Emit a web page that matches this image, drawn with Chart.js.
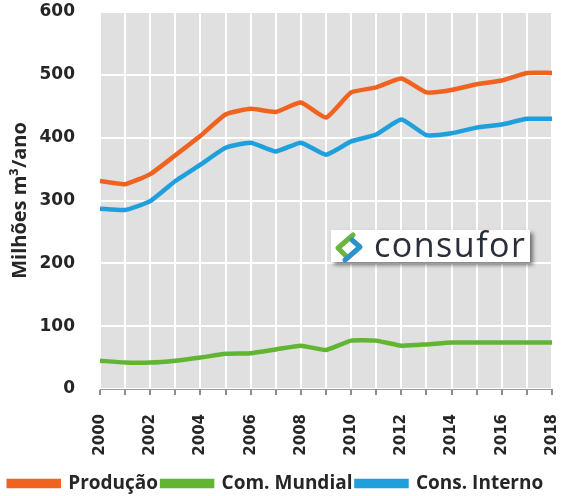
<!DOCTYPE html>
<html>
<head>
<meta charset="utf-8">
<script src="https://cdn.jsdelivr.net/npm/chart.js@4.4.1/dist/chart.umd.min.js"></script>
<style>
  html, body { margin: 0; padding: 0; background: #fff; }
  #wrap { width: 563px; height: 496px; }
</style>
</head>
<body>
<div id="wrap"><canvas id="chartCanvas" width="563" height="496"></canvas></div>
<script>
// Data
const years = ['2000', '2001', '2002', '2003', '2004', '2005', '2006', '2007', '2008', '2009',
    '2010', '2011', '2012', '2013', '2014', '2015', '2016', '2017', '2018'];
const producao = [331, 326, 342, 372, 403, 437, 446, 441, 456, 432, 472, 480, 494, 472, 476, 485, 491, 503, 503];
const comMundial = [45, 42, 42, 45, 50, 56, 57, 63, 69, 62, 77, 77, 69, 71, 74, 74, 74, 74, 74];
const consInterno = [287, 285, 299, 331, 357, 384, 392, 378, 392, 373, 394, 405, 429, 404, 407, 416, 421, 430, 430];
const yTicks = [0, 100, 200, 300, 400, 500, 600];

const TEXT = '#262626';

// Gray plot background
const plotBg = {
    id: 'plotBg',
    beforeDraw(chart) {
        const { ctx, chartArea: a } = chart;
        ctx.save();
        ctx.fillStyle = '#e0e0e0';
        ctx.fillRect(a.left, a.top, a.right - a.left, a.bottom - a.top);
        ctx.restore();
    }
};

// consufor logo box
const logo = {
    id: 'logo',
    afterDatasetsDraw(chart) {
        const ctx = chart.ctx;
        const x = 331, y = 230, w = 199, h = 32;
        ctx.save();
        ctx.shadowColor = 'rgba(0,0,0,0.5)';
        ctx.shadowBlur = 4;
        ctx.shadowOffsetX = 3;
        ctx.shadowOffsetY = 3;
        ctx.fillStyle = '#fff';
        ctx.fillRect(x, y, w, h);
        ctx.restore();

        ctx.save();
        ctx.beginPath();
        ctx.rect(x, y, w, h + 4);
        ctx.clip();
        // icon
        ctx.lineWidth = 5;
        ctx.lineCap = 'round';
        ctx.lineJoin = 'round';
        ctx.strokeStyle = '#6cb33f';
        ctx.beginPath();
        ctx.moveTo(353, 235);
        ctx.lineTo(338, 248);
        ctx.lineTo(346, 256);
        ctx.stroke();
        ctx.strokeStyle = '#2b93c9';
        ctx.beginPath();
        ctx.moveTo(345, 260);
        ctx.lineTo(360, 247);
        ctx.lineTo(352, 240);
        ctx.stroke();
        ctx.fillStyle = '#2a2d3a';
        ctx.font = '34px "Open Sans", sans-serif';
        ctx.letterSpacing = '1.5px';
        ctx.textBaseline = 'alphabetic';
        ctx.fillText('consufor', 374, 257);
        ctx.restore();
    }
};

const config = {
    type: 'line',
    data: {
        labels: years,
        datasets: [{
            label: 'Produção',
            data: producao,
            borderColor: '#f0621f',
            backgroundColor: '#f0621f',
            borderWidth: 4.5,
            pointRadius: 0,
            tension: 0.15,
            fill: false
        }, {
            label: 'Com. Mundial',
            data: comMundial,
            borderColor: '#62b531',
            backgroundColor: '#62b531',
            borderWidth: 4.5,
            pointRadius: 0,
            tension: 0.15,
            fill: false
        }, {
            label: 'Cons. Interno',
            data: consInterno,
            borderColor: '#1f9fdc',
            backgroundColor: '#1f9fdc',
            borderWidth: 4.5,
            pointRadius: 0,
            tension: 0.15,
            fill: false
        }]
    },
    options: {
        responsive: false,
        animation: false,
        layout: {
            autoPadding: false,
            padding: { top: 12, right: 11, left: 0, bottom: -7 }
        },
        plugins: {
            legend: {
                display: true,
                position: 'bottom',
                labels: {
                    color: TEXT,
                    boxWidth: 50,
                    boxHeight: 5,
                    padding: 4,
                    font: { family: '"Open Sans", sans-serif', size: 19, weight: 'bold', lineHeight: 0.9 }
                }
            },
            tooltip: { enabled: false }
        },
        scales: {
            x: {
                offset: false,
                afterFit: (axis) => {
                    axis.paddingLeft = 0;
                    axis.paddingRight = 0;
                    axis.height = 81;
                },
                grid: {
                    color: '#ffffff',
                    lineWidth: 2,
                    tickColor: '#8c8c8c',
                    tickLength: 6,
                    drawTicks: true
                },
                border: { color: '#9a9a9a', width: 1 },
                ticks: {
                    autoSkip: false,
                    maxRotation: 90,
                    minRotation: 90,
                    color: TEXT,
                    padding: 19,
                    font: { family: '"DejaVu Sans", sans-serif', size: 15, weight: 'bold' },
                    callback: function (val, i) {
                        return i % 2 === 0 ? years[i] : '';
                    }
                }
            },
            y: {
                min: yTicks[0],
                max: yTicks[yTicks.length - 1],
                afterBuildTicks: (axis) => {
                    axis.ticks = yTicks.map(v => ({ value: v }));
                },
                afterFit: (axis) => {
                    axis.width = 100;
                    axis.paddingTop = 0;
                    axis.paddingBottom = 0;
                },
                grid: {
                    color: '#ffffff',
                    lineWidth: 2,
                    drawTicks: false
                },
                border: { display: false },
                title: {
                    display: true,
                    text: 'Milhões m³/ano',
                    color: TEXT,
                    font: { family: '"Open Sans", sans-serif', size: 20, weight: 'bold' },
                    padding: { top: 8, bottom: 0 }
                },
                ticks: {
                    color: TEXT,
                    padding: 25,
                    font: { family: '"DejaVu Sans", sans-serif', size: 17, weight: 'bold' }
                }
            }
        }
    },
    plugins: [plotBg, logo]
};

const ctx = document.getElementById('chartCanvas').getContext('2d');
const chart = new Chart(ctx, config);
</script>
</body>
</html>
